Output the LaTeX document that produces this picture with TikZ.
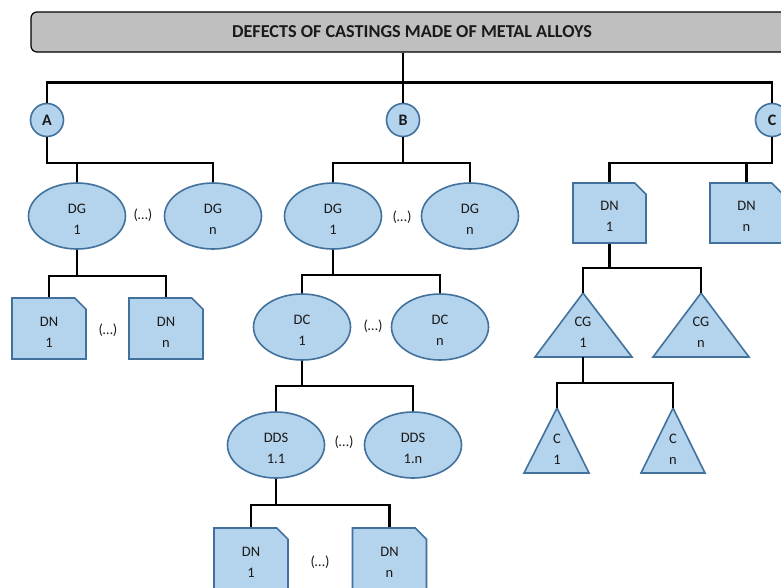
\documentclass[tikz,border=0pt]{standalone}
\usepackage{fontspec}
\setmainfont{Carlito}
\usetikzlibrary{shapes.geometric,shapes.misc}
\definecolor{bfill}{HTML}{B4D3EC}
\definecolor{bline}{HTML}{41719C}
\definecolor{tfill}{HTML}{BFBFBF}
\definecolor{txt}{HTML}{1A1A1A}
\newcommand{\nfont}{\fontsize{14.5}{21}\selectfont}
\newcommand{\tl}[2]{\rule{0pt}{16pt}#1\\#2}
\begin{document}
\begin{tikzpicture}[x=1pt,y=-1pt,
  conn/.style={draw=black,line width=2.3pt},
  titlebox/.style={rectangle,rounded corners=6pt,draw=black,line width=1.2pt,fill=tfill,
    minimum width=762pt,minimum height=40pt,inner sep=0pt,text=txt,
    font=\bfseries\fontsize{18.2}{20}\selectfont},
  circ/.style={circle,draw=bline,fill=bfill,line width=1.6pt,minimum size=33pt,inner sep=0pt,
    text=txt,font=\bfseries\fontsize{16}{18}\selectfont},
  ell/.style={ellipse,draw=bline,fill=bfill,line width=1.6pt,minimum width=97pt,minimum height=66pt,
    inner sep=0pt,align=center,text=txt,font=\nfont},
  doc/.style={chamfered rectangle,chamfered rectangle corners=north east,chamfered rectangle xsep=8pt,
    draw=bline,fill=bfill,line width=1.6pt,minimum width=74pt,minimum height=61pt,inner sep=0pt,
    align=center,text=txt,font=\nfont},
  tri/.style={draw=bline,fill=bfill,line width=1.6pt,line join=miter},
  lbl/.style={align=center,text=txt,font=\nfont,inner sep=0pt},
  dots/.style={text=txt,font=\nfont,inner sep=0pt}]
\clip (0,0) rectangle (781,587);
\fill[white] (0,0) rectangle (781,587);

% title and main branches
\node[titlebox] (T) at (412,32) {DEFECTS OF CASTINGS MADE OF METAL ALLOYS};
\node[circ] (A) at (47,120) {A};
\node[circ] (B) at (403,120) {B};
\node[circ] (C) at (772,120) {C};

% branch A
\node[ell] (DGA1) at (77,216) {\tl{DG}{1}};
\node[ell] (DGAn) at (213,216) {\tl{DG}{n}};
\node[dots] (dA1) at (143,215) {(…)};
\node[doc] (DNA1) at (49,328.5) {\tl{DN}{1}};
\node[doc] (DNAn) at (166,328.5) {\tl{DN}{n}};
\node[dots] (dA2) at (108,330) {(…)};

% branch B
\node[ell] (DGB1) at (333,216) {\tl{DG}{1}};
\node[ell] (DGBn) at (470,216) {\tl{DG}{n}};
\node[dots] (dB1) at (402,217) {(…)};
\node[ell] (DC1) at (302,327) {\tl{DC}{1}};
\node[ell] (DCn) at (440,327) {\tl{DC}{n}};
\node[dots] (dB2) at (373,326) {(…)};
\node[ell] (DDS1) at (276,445) {\tl{DDS}{1.1}};
\node[ell] (DDSn) at (413,445) {\tl{DDS}{1.n}};
\node[dots] (dB3) at (344,442) {(…)};
\node[doc] (DNB1) at (251,558.5) {\tl{DN}{1}};
\node[doc] (DNBn) at (389.5,558.5) {\tl{DN}{n}};
\node[dots] (dB4) at (320,562) {(…)};

% branch C
\node[doc,minimum width=73pt,minimum height=60pt] (DNC1) at (609.5,213) {\tl{DN}{1}};
\node[doc,minimum width=73pt,minimum height=60pt] (DNCn) at (746.5,213) {\tl{DN}{n}};

\coordinate (CG1a) at (583,293);
\coordinate (CGna) at (701,293);
\coordinate (C1a) at (557,408);
\coordinate (Cna) at (673,408);
\draw[tri] (CG1a) -- (632,357) -- (535,357) -- cycle;
\draw[tri] (CGna) -- (749,357) -- (653,357) -- cycle;
\draw[tri] (C1a) -- (589,473) -- (524,473) -- cycle;
\draw[tri] (Cna) -- (705,473) -- (641,473) -- cycle;
\coordinate (CG1b) at (583,357);
\node[lbl] (CG1) at (583,332) {CG\\1};
\node[lbl] (CGn) at (701,332) {CG\\n};
\node[lbl] (C1) at (557,449) {C\\1};
\node[lbl] (Cn) at (673,449) {C\\n};

% connectors
\draw[conn] (B |- T.south) -- ++(0,30) -| (A.north);
\draw[conn] (B |- T.south) -- ++(0,30) -| (B.north);
\draw[conn] (B |- T.south) -- ++(0,30) -| (C.north);

\draw[conn] (A.south) -- ++(0,26) -| (DGA1.north);
\draw[conn] (A.south) -- ++(0,26) -| (DGAn.north);
\draw[conn] (DGA1.south) -- ++(0,26) -| (DNA1.north);
\draw[conn] (DGA1.south) -- ++(0,26) -| (DNAn.north);

\draw[conn] (B.south) -- ++(0,26) -| (DGB1.north);
\draw[conn] (B.south) -- ++(0,26) -| (DGBn.north);
\draw[conn] (DGB1.south) -- ++(0,25) -| (DC1.north);
\draw[conn] (DGB1.south) -- ++(0,25) -| (DCn.north);
\draw[conn] (DC1.south) -- ++(0,25) -| (DDS1.north);
\draw[conn] (DC1.south) -- ++(0,25) -| (DDSn.north);
\draw[conn] (DDS1.south) -- ++(0,26) -| (DNB1.north);
\draw[conn] (DDS1.south) -- ++(0,26) -| (DNBn.north);

\draw[conn] (C.south) -- ++(0,26) -| (DNC1.north);
\draw[conn] (C.south) -- ++(0,26) -| (DNCn.north);
\draw[conn] (DNC1.south) -- ++(0,24) -| (CG1a);
\draw[conn] (DNC1.south) -- ++(0,24) -| (CGna);
\draw[conn] (CG1b) -- ++(0,26) -| (C1a);
\draw[conn] (CG1b) -- ++(0,26) -| (Cna);
\end{tikzpicture}
\end{document}
